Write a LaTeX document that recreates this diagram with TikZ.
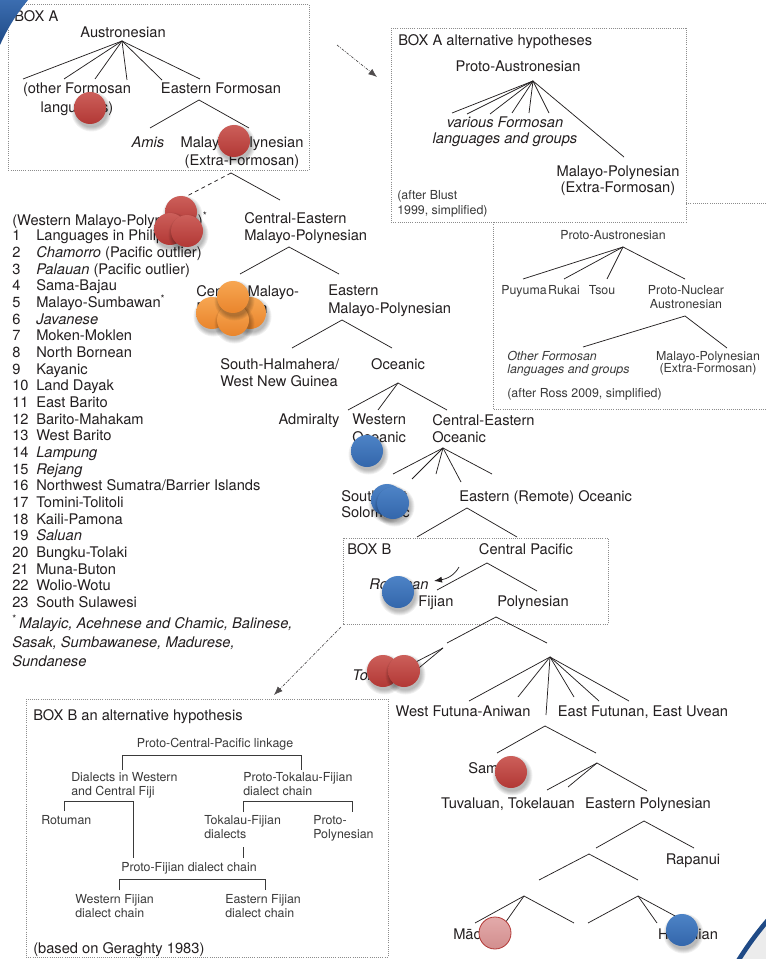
\documentclass[tikz,border=0pt]{standalone}
\usepackage{fontspec}
\setmainfont{TeX Gyre Heros}
\usetikzlibrary{arrows.meta}
\definecolor{ink}{HTML}{231F20}
\definecolor{soft}{HTML}{3A3A3A}
\definecolor{boxline}{HTML}{8C8C8C}
\definecolor{redT}{HTML}{CC5F5A}
\definecolor{redB}{HTML}{B23835}
\definecolor{orT}{HTML}{F7A652}
\definecolor{orB}{HTML}{E9852C}
\definecolor{blT}{HTML}{4D83C6}
\definecolor{blB}{HTML}{3366AB}
\definecolor{pinkT}{HTML}{E3AAAA}
\definecolor{pinkB}{HTML}{D28E8E}
\definecolor{navy}{HTML}{1F4A86}
\definecolor{navyL}{HTML}{3B6DB0}

% one fan of branches: name, apex, list of branch ends
\newcommand\fan[3]{%
  \coordinate (#1) at (#2);
  \foreach \pt [count=\i] in {#3}{\coordinate (#1-\i) at (\pt); \draw[br] (#1) -- (#1-\i);}%
}
% shaded marker disc with a soft shadow
\newcommand\ball[3]{%
  \foreach \k in {5,4,3,2,1}{\fill[black,opacity=0.06,shift={(1.5,3.5)}] (#1) circle[radius=15+\k];}
  \shade[top color=#2,bottom color=#3] (#1) circle[radius=16];
}
\newcommand\itemno[1]{\makebox[18pt][l]{#1}}

\begin{document}
\begin{tikzpicture}[x=0.75pt,y=-0.75pt,
  lbl/.style={inner sep=0pt,text=ink,font=\fontsize{11}{13}\selectfont},
  sm/.style={inner sep=0pt,text=soft,font=\fontsize{9.3}{11}\selectfont},
  br/.style={draw=ink,line width=0.55pt},
  bracket/.style={draw=soft,line width=0.5pt},
  dotbox/.style={draw=boxline,line width=0.5pt,dash pattern=on 0.7pt off 0.9pt},
  pointer/.style={draw=ink!80,line width=0.5pt,dash pattern=on 2pt off 1pt on 0.6pt off 1pt,
                  -{Latex[length=6.5pt,width=5pt]}}]
\useasboundingbox (0,0) rectangle (766,959);
\fill[white] (0,0) rectangle (766,959);

% ---------- frames ----------
\draw[dotbox] (766,203) -- (493,203) -- (493,409) -- (766,409);
\draw[dotbox,fill=white] (391,28) rectangle (686,222);
\draw[dotbox] (8,4) rectangle (309,170);
\draw[dotbox] (343,538) rectangle (608,624);
\draw[dotbox] (26,699) rectangle (388,957);

% ---------- BOX A ----------
\node[lbl,anchor=north west] (boxa) at (14,10) {BOX A};
\node[lbl,anchor=north] (austro) at (123,27) {Austronesian};
\node[lbl,anchor=north,align=center,font=\fontsize{11}{14}\selectfont] (ofl) at (77,83) {(other Formosan\\languages)};
\node[lbl,anchor=north] (ef) at (221,83) {Eastern Formosan};
\node[lbl,anchor=north] (amis) at (148,137) {\textit{Amis}};
\node[lbl,anchor=north,align=center,font=\fontsize{11}{13.5}\selectfont] (mp) at (242,137) {Malayo-Polynesian\\(Extra-Formosan)};
\fan{au}{122,41}{{23,79},{64,79},{95,79},{127,80},{162,80},{200,79}}
\fan{efa}{199,100}{{150,128},{249,128}}
\coordinate (mpa) at (231,173);
\coordinate (mpa-w) at (187,196);
\coordinate (mpa-ce) at (280,200);
\draw[br,dash pattern=on 3pt off 2.5pt] (mpa) -- (mpa-w);
\draw[br] (mpa) -- (mpa-ce);

% ---------- Western Malayo-Polynesian list ----------
\node[lbl,anchor=north west] (wmp) at (12,212) {(Western Malayo-Polynesian)\textsuperscript{*}};
\node[lbl,anchor=north west,align=left,font=\fontsize{11}{12.5}\selectfont] (wmplist) at (12,230) {%
\itemno{1}Languages in Philippines\\
\itemno{2}\textit{Chamorro} (Pacific outlier)\\
\itemno{3}\textit{Palauan} (Pacific outlier)\\
\itemno{4}Sama-Bajau\\
\itemno{5}Malayo-Sumbawan\textsuperscript{*}\\
\itemno{6}\textit{Javanese}\\
\itemno{7}Moken-Moklen\\
\itemno{8}North Bornean\\
\itemno{9}Kayanic\\
\itemno{10}Land Dayak\\
\itemno{11}East Barito\\
\itemno{12}Barito-Mahakam\\
\itemno{13}West Barito\\
\itemno{14}\textit{Lampung}\\
\itemno{15}\textit{Rejang}\\
\itemno{16}Northwest Sumatra/Barrier Islands\\
\itemno{17}Tomini-Tolitoli\\
\itemno{18}Kaili-Pamona\\
\itemno{19}\textit{Saluan}\\
\itemno{20}Bungku-Tolaki\\
\itemno{21}Muna-Buton\\
\itemno{22}Wolio-Wotu\\
\itemno{23}South Sulawesi};
\node[lbl,anchor=north west,align=left,font=\fontsize{11}{14.6}\selectfont] (wmpnote) at (12,615) {%
\textsuperscript{*}\,\textit{Malayic, Acehnese and Chamic, Balinese,}\\
\textit{Sasak, Sumbawanese, Madurese,}\\
\textit{Sundanese}};

% ---------- main tree ----------
\node[lbl,anchor=north west,align=left] (cemp) at (244,212) {Central-Eastern\\Malayo-Polynesian};
\fan{cempa}{289,247}{{240,274},{339,274}}
\node[lbl,anchor=north west,align=left] (cmp) at (196,285) {Central Malayo-\\Polynesian};
\node[lbl,anchor=north west,align=left] (emp) at (328,285) {Eastern\\Malayo-Polynesian};
\fan{empa}{342,320}{{292,348},{392,348}}
\node[lbl,anchor=north west,align=left] (shwng) at (220,358) {South-Halmahera/\\West New Guinea};
\node[lbl,anchor=north] (oce) at (398,358) {Oceanic};
\fan{ocea}{398,383}{{348,410},{378,410},{447,410}}
\node[lbl,anchor=north] (adm) at (309,414) {Admiralty};
\node[lbl,anchor=north west,align=left,font=\fontsize{11}{12.8}\selectfont] (woc) at (352,414) {Western\\Oceanic};
\node[lbl,anchor=north west,align=left,font=\fontsize{11}{12.8}\selectfont] (ceo) at (432,414) {Central-Eastern\\Oceanic};
\fan{ceoa}{443,448}{{393,474},{412,479},{436,474},{461,482},{492,474}}
\node[lbl,anchor=north west,align=left,font=\fontsize{11}{12.5}\selectfont] (seso) at (341,490) {Southeast\\Solomonic};
\node[lbl,anchor=north west] (eroc) at (459,490) {Eastern (Remote) Oceanic};
\fan{eroca}{467,508}{{417,537},{517,537}}

% ---------- BOX B ----------
\node[lbl,anchor=north west] (boxb) at (347,543) {BOX B};
\node[lbl,anchor=north] (cp) at (526,543) {Central Pacific};
\fan{cpa}{487,563}{{437,590},{537,591}}
\node[lbl,anchor=north] (rot) at (399,579) {\textit{Rotuman}};
\node[lbl,anchor=north] (fij) at (436,596) {Fijian};
\node[lbl,anchor=north] (pol) at (533,596) {Polynesian};
\coordinate (rotarr-s) at (459,567);
\coordinate (rotarr-e) at (434,581);
\draw[br,-{Latex[length=6pt,width=4.5pt]}] (rotarr-s) .. controls (454,576) and (446,579) .. (rotarr-e);

% ---------- Polynesian ----------
\fan{pola}{496,617}{{447,643},{547,643}}
\fan{tga}{443,648}{{410,665},{414,672}}
\node[lbl,anchor=north west] (tongic) at (352,670) {\textit{Tongic}};
\fan{npa}{550,657}{{469,701},{518,697},{546,715},{574,697},{599,701},{629,701}}
\node[lbl,anchor=north] (wfa) at (463,706) {West Futuna-Aniwan};
\node[lbl,anchor=north] (efeu) at (643,706) {East Futunan, East Uvean};
\fan{sma}{545,726}{{497,753},{596,753}}
\node[lbl,anchor=north west] (sam) at (468,762) {Samoan};
\fan{eca}{597,763}{{547,790},{568,787},{647,791}}
\node[lbl,anchor=north] (tt) at (508,798) {Tuvaluan, Tokelauan};
\node[lbl,anchor=north] (ep) at (648,798) {Eastern Polynesian};
\fan{epa}{644,821}{{596,848},{694,848}}
\node[lbl,anchor=north] (rap) at (693,854) {Rapanui};
\fan{cepa}{589,854}{{539,880},{638,880}}
\fan{cla}{524,896}{{475,923},{505,923},{574,923}}
\fan{cra}{638,896}{{588,923},{657,923},{677,917}}
\node[lbl,anchor=north west] (mao) at (453,929) {Māori};
\node[lbl,anchor=north] (haw) at (688,929) {Hawaiian};

% ---------- BOX A alternative hypotheses ----------
\node[lbl,anchor=north west] (boxaalt) at (398,34) {BOX A alternative hypotheses};
\node[lbl,anchor=north] (pan) at (518,61) {Proto-Austronesian};
\fan{pana}{533,81}{{452,113},{467,114},{490,114},{512,113},{529,113},{549,113},{624,157}}
\node[lbl,anchor=north,align=center,font=\fontsize{11}{11.5}\selectfont] (vfl) at (505,117) {\textit{various Formosan}\\\textit{languages and groups}};
\node[lbl,anchor=north,align=center,font=\fontsize{11}{11.5}\selectfont] (mp2) at (618,166) {Malayo-Polynesian\\(Extra-Formosan)};
\node[sm,anchor=north west,align=left,font=\fontsize{9.3}{11.3}\selectfont] (blust) at (397,190) {(after Blust\\1999, simplified)};

% ---------- Ross hypothesis ----------
\node[sm,anchor=north] (pan2) at (613,230) {Proto-Austronesian};
\fan{pan2a}{623,247}{{523,279},{564,279},{607,279},{685,279}}
\node[sm,anchor=north] (puy) at (524,285) {Puyuma};
\node[sm,anchor=north] (ruk) at (564,285) {Rukai};
\node[sm,anchor=north] (tsou) at (602,285) {Tsou};
\node[sm,anchor=north,align=center,font=\fontsize{9.3}{10.5}\selectfont] (pna) at (686,285) {Proto-Nuclear\\Austronesian};
\fan{pnaa}{685,316}{{583,347},{727,348}}
\node[sm,anchor=north west,align=left,font=\fontsize{9.3}{9.5}\selectfont] (ofg) at (507,351) {\textit{Other Formosan}\\\textit{languages and groups}};
\node[sm,anchor=north,align=center,font=\fontsize{9.3}{9.5}\selectfont] (mp3) at (708,351) {Malayo-Polynesian\\(Extra-Formosan)};
\node[sm,anchor=north west] (ross) at (507,388) {(after Ross 2009, simplified)};

% ---------- BOX B an alternative hypothesis ----------
\node[lbl,anchor=north west] (boxbalt) at (33,709) {BOX B an alternative hypothesis};
\node[sm,anchor=north] (pcp) at (215,738) {Proto-Central-Pacific linkage};
\node[sm,anchor=north west,align=left,font=\fontsize{9.3}{10.5}\selectfont] (dwc) at (71,772) {Dialects in Western\\and Central Fiji};
\node[sm,anchor=north west,align=left,font=\fontsize{9.3}{10.5}\selectfont] (ptf) at (243,772) {Proto-Tokalau-Fijian\\dialect chain};
\node[sm,anchor=north west] (rotu) at (41,815) {Rotuman};
\node[sm,anchor=north west,align=left,font=\fontsize{9.3}{10.5}\selectfont] (tfd) at (204,815) {Tokalau-Fijian\\dialects};
\node[sm,anchor=north west,align=left,font=\fontsize{9.3}{10.5}\selectfont] (ppn) at (313,815) {Proto-\\Polynesian};
\node[sm,anchor=north west] (pfd) at (121,862) {Proto-Fijian dialect chain};
\node[sm,anchor=north west,align=left,font=\fontsize{9.3}{10.5}\selectfont] (wfd) at (75,894) {Western Fijian\\dialect chain};
\node[sm,anchor=north west,align=left,font=\fontsize{9.3}{10.5}\selectfont] (efd) at (225,894) {Eastern Fijian\\dialect chain};
\node[lbl,anchor=north west] (ger) at (33,942) {(based on Geraghty 1983)};
\coordinate (pcp-l) at (122,770); \coordinate (pcp-r) at (301,770);
\draw[bracket] (pcp-l) -- (122,755) -- (301,755) -- (pcp-r);
\coordinate (dwc-l) at (64,811); \coordinate (dwc-r) at (133,858);
\draw[bracket] (dwc-l) -- (64,801) -- (133,801) -- (dwc-r);
\coordinate (ptf-l) at (243,812); \coordinate (ptf-r) at (352,812);
\draw[bracket] (ptf-l) -- (243,801) -- (352,801) -- (ptf-r);
\coordinate (tfd-b) at (243,847); \coordinate (pfd-t) at (243,858);
\draw[bracket] (tfd-b) -- (pfd-t);
\coordinate (pfd-l) at (119,890); \coordinate (pfd-r) at (265,890);
\draw[bracket] (pfd-l) -- (119,879) -- (265,879) -- (pfd-r);

% ---------- pointers to the alternative boxes ----------
\coordinate (boxa-out) at (337,45);
\coordinate (boxaalt-in) at (377,77);
\draw[pointer] (boxa-out) -- (boxaalt-in);
\coordinate (boxb-out) at (341,627);
\coordinate (boxbalt-in) at (274,695);
\draw[pointer] (boxb-out) -- (boxbalt-in);

% ---------- markers ----------
\ball{90,108}{redT}{redB}
\ball{234,141}{redT}{redB}
\ball{181,212}{redT}{redB}
\ball{170,229}{redT}{redB}
\ball{187,231}{redT}{redB}
\ball{212,313}{orT}{orB}
\ball{250,313}{orT}{orB}
\ball{233,320}{orT}{orB}
\ball{233,297}{orT}{orB}
\ball{367,451}{blT}{blB}
\ball{387,500}{blT}{blB}
\ball{393,503}{blT}{blB}
\ball{398,592}{blT}{blB}
\ball{383,671}{redT}{redB}
\ball{404,671}{redT}{redB}
\ball{511,772}{redT}{redB}
\ball{682,930}{blT}{blB}
\shade[top color=pinkT,bottom color=pinkB] (495,933) circle[radius=16];
\draw[redB,line width=0.6pt] (495,933) circle[radius=16];

% ---------- corner ornaments ----------
\shade[top color=navyL,bottom color=navy] (0,0) -- (28,0) .. controls (18,12) and (8,27) .. (0,45) -- cycle;
\fill[gray!15] (738,959) .. controls (748,945) and (757,933) .. (766,922) -- (766,959) -- cycle;
\draw[navy,line width=3.5pt] (738,961) .. controls (748,945) and (757,933) .. (768,920);
\end{tikzpicture}
\end{document}
